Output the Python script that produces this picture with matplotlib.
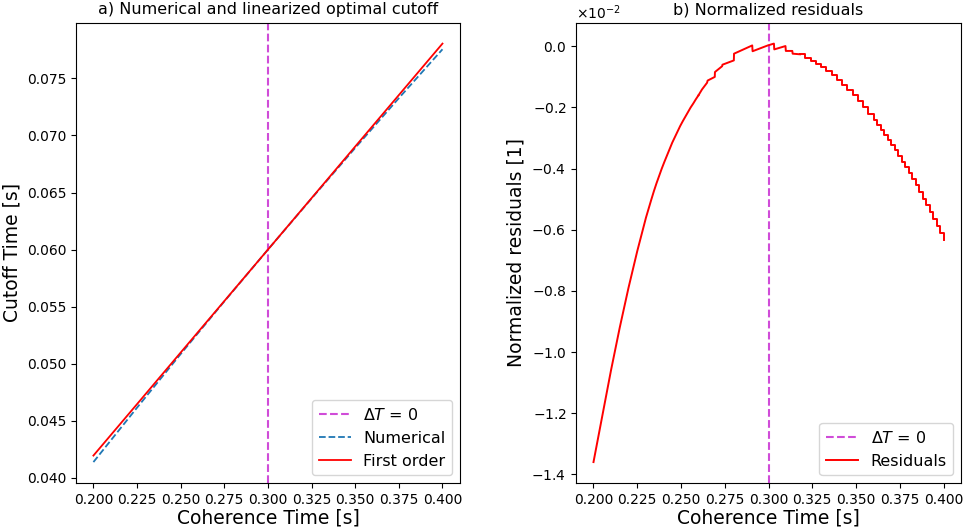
import matplotlib
matplotlib.use('Agg')
import matplotlib.pyplot as plt
from matplotlib.ticker import MultipleLocator
import numpy as np

# coherence time grid for panel a)
t_coh = [0.200, 0.225, 0.250, 0.275, 0.300, 0.325, 0.350, 0.375, 0.400]
cut_first = [0.04195, 0.04646, 0.05098, 0.05549, 0.06000, 0.06451, 0.06903, 0.07354, 0.07805]
cut_num = [0.04138, 0.04615, 0.05085, 0.05546, 0.06000, 0.06448, 0.06891, 0.07327, 0.07755]

# residuals (in units of 1e-2), steep left part
res_left_x = [0.200, 0.201, 0.202, 0.203, 0.204, 0.205, 0.206, 0.207, 0.208, 0.209,
              0.210, 0.211, 0.212, 0.213, 0.214, 0.215, 0.216, 0.217, 0.218, 0.219,
              0.220, 0.221, 0.222, 0.223, 0.224, 0.225, 0.226, 0.227, 0.228, 0.229,
              0.230, 0.2315, 0.233, 0.2345, 0.236, 0.2375, 0.239, 0.2405, 0.242, 0.2435,
              0.245, 0.2465, 0.248, 0.2495, 0.251, 0.2525, 0.254, 0.2555, 0.257, 0.2585,
              0.260]
res_left_y = [-1.360, -1.330, -1.300, -1.270, -1.240, -1.210, -1.180, -1.150, -1.120, -1.090,
              -1.060, -1.032, -1.004, -0.976, -0.948, -0.920, -0.894, -0.868, -0.842, -0.816,
              -0.790, -0.766, -0.742, -0.718, -0.694, -0.670, -0.648, -0.626, -0.604, -0.582,
              -0.560, -0.531, -0.502, -0.474, -0.448, -0.424, -0.400, -0.378, -0.357, -0.336,
              -0.315, -0.297, -0.279, -0.261, -0.245, -0.230, -0.215, -0.200, -0.187, -0.173,
              -0.160]

# around the maximum
res_peak_x = [0.2600, 0.2620, 0.2649, 0.2652, 0.2693, 0.2694, 0.2735, 0.2737, 0.2802, 0.2803,
              0.2907, 0.2909, 0.2996, 0.3031, 0.3033, 0.3097, 0.3099, 0.3136, 0.3138, 0.3180]
res_peak_y = [-0.160, -0.141, -0.119, -0.112, -0.100, -0.084, -0.065, -0.060, -0.046, -0.024,
              0.003, -0.016, 0.003, 0.009, -0.010, 0.001, -0.015, -0.015, -0.024, -0.026]

# right part, steps
res_right_x = [0.318, 0.321, 0.324, 0.327, 0.330, 0.333, 0.336, 0.339, 0.342, 0.345,
               0.348, 0.351, 0.354, 0.357, 0.360, 0.362, 0.364, 0.366, 0.368, 0.370,
               0.372, 0.374, 0.376, 0.378, 0.380, 0.382, 0.384, 0.386, 0.388, 0.390,
               0.392, 0.394, 0.396, 0.398, 0.400]
res_right_y = [-0.026, -0.037, -0.047, -0.057, -0.069, -0.081, -0.095, -0.110, -0.125, -0.142,
               -0.160, -0.179, -0.199, -0.220, -0.242, -0.257, -0.273, -0.289, -0.306, -0.323,
               -0.340, -0.358, -0.377, -0.396, -0.415, -0.435, -0.455, -0.476, -0.498, -0.519,
               -0.542, -0.564, -0.587, -0.611, -0.635]

t0 = 0.3
vcol = '#d04cd8'
fs_tick = 10
fs_lab = 13.5
fs_title = 11.5
fs_leg = 11.5

fig = plt.figure(figsize=(9.64, 5.31), dpi=100)
ax1 = fig.add_axes([0.0788, 0.0904, 0.3983, 0.8669])
ax2 = fig.add_axes([0.5975, 0.0904, 0.3994, 0.8669])

# a)
ax1.axvline(t0, color=vcol, ls='--', lw=1.5, label=r'$\Delta T$ = 0')
ax1.plot(t_coh, cut_num, '--', color='#1f77b4', lw=1.3, label='Numerical')
ax1.plot(t_coh, cut_first, '-', color='r', lw=1.3, label='First order')
ax1.set_title('a) Numerical and linearized optimal cutoff', fontsize=fs_title)
ax1.set_xlabel('Coherence Time [s]', fontsize=fs_lab, labelpad=1)
ax1.set_ylabel('Cutoff Time [s]', fontsize=fs_lab)
ax1.xaxis.set_major_locator(MultipleLocator(0.025))
ax1.tick_params(labelsize=fs_tick)
ax1.legend(loc='lower right', fontsize=fs_leg)

# b)
ax2.axvline(t0, color=vcol, ls='--', lw=1.5, label=r'$\Delta T$ = 0')
ax2.plot(res_left_x, np.array(res_left_y) * 1e-2, color='r', lw=1.4)
ax2.plot(res_peak_x, np.array(res_peak_y) * 1e-2, color='r', lw=1.4)
ax2.plot(res_right_x, np.array(res_right_y) * 1e-2, color='r', lw=1.4, drawstyle='steps-post',
         label='Residuals')
ax2.ticklabel_format(axis='y', style='sci', scilimits=(0, 0), useMathText=True)
ax2.yaxis.get_offset_text().set_fontsize(fs_tick)
ax2.set_title('b) Normalized residuals', fontsize=fs_title)
ax2.set_xlabel('Coherence Time [s]', fontsize=fs_lab, labelpad=1)
ax2.set_ylabel('Normalized residuals [1]', fontsize=fs_lab)
ax2.xaxis.set_major_locator(MultipleLocator(0.025))
ax2.tick_params(labelsize=fs_tick)
ax2.legend(loc='lower right', fontsize=fs_leg)

fig.savefig('out.png', dpi=100)
